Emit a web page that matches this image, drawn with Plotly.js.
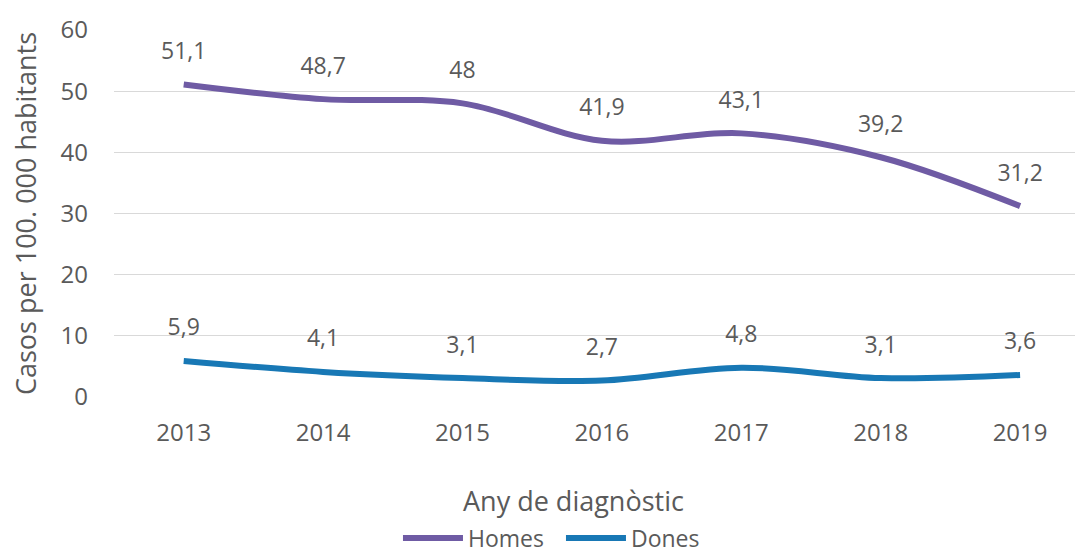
<!DOCTYPE html>
<html>
<head>
<meta charset="utf-8">
<script src="https://cdn.plot.ly/plotly-3.0.1.min.js"></script>
<style>html,body{margin:0;padding:0;background:#fff;}#chart{width:1075px;height:554px;}</style>
</head>
<body>
<div id="chart"></div>
<script>
const years = ["2013", "2014", "2015", "2016", "2017", "2018", "2019"];
const homes = [51.1, 48.7, 48, 41.9, 43.1, 39.2, 31.2];
const dones = [5.9, 4.1, 3.1, 2.7, 4.8, 3.1, 3.6];
const seriesNames = ["Homes", "Dones"];
const yTicks = [0, 10, 20, 30, 40, 50, 60];

const textColor = "#5a5a5a";
const font = "Open Sans, sans-serif";
const fmt = v => String(v).replace(".", ",");

const traces = [
  {x: years, y: homes, name: seriesNames[0], type: "scatter", mode: "lines",
   line: {color: "#6F5BA4", width: 6, shape: "spline", smoothing: 1}, hoverinfo: "skip"},
  {x: years, y: dones, name: seriesNames[1], type: "scatter", mode: "lines",
   line: {color: "#1878B5", width: 6, shape: "spline", smoothing: 1}, hoverinfo: "skip"}
];

// data labels: invisible markers give the text its lift above each point
[homes, dones].forEach(arr => {
  traces.push({x: years, y: arr, type: "scatter", mode: "markers+text", showlegend: false,
    marker: {size: 30, opacity: 0}, text: arr.map(fmt), textposition: "top center",
    textfont: {family: font, size: 23, color: textColor}, hoverinfo: "skip", cliponaxis: false});
});

const layout = {
  width: 1075, height: 554,
  margin: {l: 114, r: 0, t: 30, b: 157, autoexpand: false},
  paper_bgcolor: "#fff", plot_bgcolor: "#fff",
  font: {family: font, color: textColor},
  showlegend: true,
  xaxis: {
    type: "category", range: [-0.5, 6.394], automargin: false,
    showgrid: false, zeroline: false, showline: false, ticks: "",
    tickfont: {family: font, size: 24, color: textColor},
    ticklabelstandoff: 19
  },
  yaxis: {
    range: [0, 60], tickvals: yTicks, showgrid: true, gridcolor: "#d9d9d9", gridwidth: 1,
    zeroline: false, showline: false, ticks: "", automargin: false,
    tickfont: {family: font, size: 24, color: textColor},
    ticklabelstandoff: 25,
    title: {text: "Casos per 100. 000 habitants", font: {family: font, size: 27, color: textColor}, standoff: 16}
  },
  annotations: [
    {text: "Any de diagnòstic", xref: "paper", yref: "paper", x: (573.5 - 114) / 961, y: (397 - 500) / 367,
     xanchor: "center", yanchor: "middle", showarrow: false,
     font: {family: font, size: 27, color: textColor}}
  ],
  legend: {orientation: "h", x: 0.2955, xanchor: "left", y: -0.384, yanchor: "middle",
    font: {family: font, size: 23, color: textColor}, itemwidth: 60,
    entrywidth: 88, entrywidthmode: "pixels", tracegroupgap: 0,
    bgcolor: "rgba(0,0,0,0)"}
};

Plotly.newPlot("chart", traces, layout, {displayModeBar: false, staticPlot: true});
</script>
</body>
</html>
